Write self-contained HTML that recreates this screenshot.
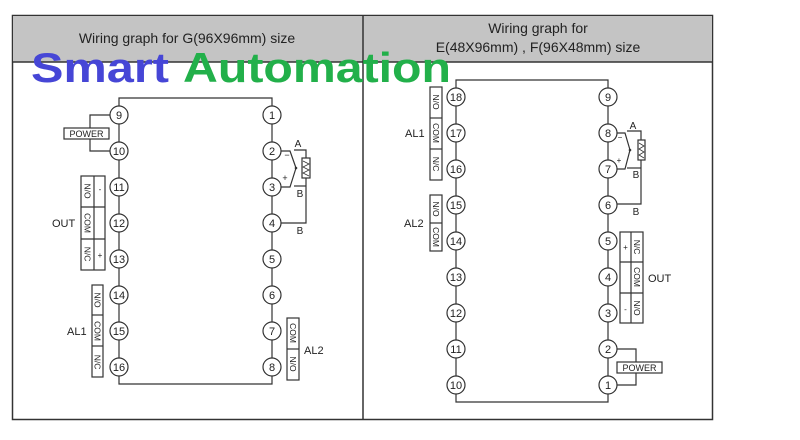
<!DOCTYPE html>
<html><head><meta charset="utf-8"><style>
html,body{margin:0;padding:0;background:#fff;width:800px;height:440px;overflow:hidden}
svg{display:block;font-family:"Liberation Sans",sans-serif}
</style></head><body>
<svg width="800" height="440" viewBox="0 0 800 440" xmlns="http://www.w3.org/2000/svg">
<!-- frame -->
<rect x="12.5" y="15.5" width="700" height="404" fill="#fff" stroke="#333" stroke-width="1.5"/>
<rect x="13" y="16" width="699" height="46" fill="#c4c4c4"/>
<line x1="12" y1="62" x2="713" y2="62" stroke="#333" stroke-width="1.5"/>
<line x1="363" y1="15" x2="363" y2="419" stroke="#333" stroke-width="1.5"/>
<text x="187" y="43" font-size="14" text-anchor="middle" fill="#222">Wiring graph for G(96X96mm) size</text>
<text x="538" y="33" font-size="14" text-anchor="middle" fill="#222">Wiring graph for</text>
<text x="538" y="52" font-size="14" text-anchor="middle" fill="#222">E(48X96mm) ,  F(96X48mm) size</text>
<text x="31" y="82" font-size="42" font-weight="bold" fill="#4646d6" textLength="138" lengthAdjust="spacingAndGlyphs">Smart</text>
<text x="183" y="82" font-size="42" font-weight="bold" fill="#22b04a" textLength="268" lengthAdjust="spacingAndGlyphs">Automation</text>

<g stroke="#333" stroke-width="1.2" fill="none">
<!-- left panel bus -->
<polyline points="119,115 119,98 272,98 272,115"/>
<line x1="119" y1="115" x2="119" y2="367"/>
<line x1="272" y1="115" x2="272" y2="367"/>
<polyline points="119,367 119,384 272,384 272,367"/>
<!-- power -->
<polyline points="110,115 90,115 90,128"/>
<polyline points="90,139 90,151 110,151"/>
<rect x="64" y="128" width="45" height="11"/>
<!-- OUT box -->
<rect x="81" y="176" width="24" height="94"/>
<line x1="94" y1="176" x2="94" y2="270"/>
<line x1="81" y1="207" x2="105" y2="207"/>
<line x1="81" y1="239" x2="105" y2="239"/>
<!-- AL1 -->
<rect x="92" y="285" width="11" height="92"/>
<line x1="92" y1="315" x2="103" y2="315"/>
<line x1="92" y1="346" x2="103" y2="346"/>
<!-- AL2 -->
<rect x="287" y="318" width="12" height="62"/>
<line x1="287" y1="349" x2="299" y2="349"/>
<!-- thermo left -->
<polyline points="281,151 290,151 296,168"/>
<polyline points="281,187 290,187 296,168"/>
<polyline points="294,150 306,150 306,158"/>
<polyline points="294,186 306,186"/>
<polyline points="306,178 306,223 281,223"/>
<rect x="302" y="158" width="8" height="20"/>
<polyline points="303,161 309,164 303,167 309,170 303,173 309,176" stroke-width="0.8"/>

<!-- right panel bus -->
<polyline points="456,97 456,80 608,80 608,97"/>
<line x1="456" y1="97" x2="456" y2="385"/>
<line x1="608" y1="97" x2="608" y2="385"/>
<polyline points="456,385 456,402 608,402 608,385"/>
<!-- AL1 -->
<rect x="430" y="87" width="12" height="93"/>
<line x1="430" y1="118" x2="442" y2="118"/>
<line x1="430" y1="149" x2="442" y2="149"/>
<!-- AL2 -->
<rect x="430" y="195" width="12" height="56"/>
<line x1="430" y1="223" x2="442" y2="223"/>
<!-- thermo right -->
<polyline points="617,133 625,133 630,150"/>
<polyline points="617,169 625,169 630,150"/>
<polyline points="627,131 641,131 641,140"/>
<polyline points="627,168 641,168"/>
<polyline points="641,160 641,204 617,204"/>
<rect x="638" y="140" width="7" height="20"/>
<polyline points="639,143 644,146 639,149 644,152 639,155 644,158" stroke-width="0.8"/>
<!-- OUT right -->
<rect x="620" y="232" width="23" height="91"/>
<line x1="631" y1="232" x2="631" y2="323"/>
<line x1="620" y1="262" x2="643" y2="262"/>
<line x1="620" y1="293" x2="643" y2="293"/>
<!-- power right -->
<polyline points="617,349 636,349 636,362"/>
<polyline points="636,373 636,385 617,385"/>
<rect x="617" y="362" width="45" height="11"/>
</g>
<circle cx="296" cy="168" r="1.3" fill="#333"/>
<circle cx="630" cy="150" r="1.3" fill="#333"/>

<g stroke="#333" stroke-width="1.2" fill="#fff">
<circle cx="119" cy="115" r="9"/><circle cx="119" cy="151" r="9"/><circle cx="119" cy="187" r="9"/><circle cx="119" cy="223" r="9"/>
<circle cx="119" cy="259" r="9"/><circle cx="119" cy="295" r="9"/><circle cx="119" cy="331" r="9"/><circle cx="119" cy="367" r="9"/>
<circle cx="272" cy="115" r="9"/><circle cx="272" cy="151" r="9"/><circle cx="272" cy="187" r="9"/><circle cx="272" cy="223" r="9"/>
<circle cx="272" cy="259" r="9"/><circle cx="272" cy="295" r="9"/><circle cx="272" cy="331" r="9"/><circle cx="272" cy="367" r="9"/>
<circle cx="456" cy="97" r="9"/><circle cx="456" cy="133" r="9"/><circle cx="456" cy="169" r="9"/><circle cx="456" cy="205" r="9"/>
<circle cx="456" cy="241" r="9"/><circle cx="456" cy="277" r="9"/><circle cx="456" cy="313" r="9"/><circle cx="456" cy="349" r="9"/><circle cx="456" cy="385" r="9"/>
<circle cx="608" cy="97" r="9"/><circle cx="608" cy="133" r="9"/><circle cx="608" cy="169" r="9"/><circle cx="608" cy="205" r="9"/>
<circle cx="608" cy="241" r="9"/><circle cx="608" cy="277" r="9"/><circle cx="608" cy="313" r="9"/><circle cx="608" cy="349" r="9"/><circle cx="608" cy="385" r="9"/>
</g>
<g font-size="11" text-anchor="middle" fill="#222">
<text x="119" y="119">9</text><text x="119" y="155">10</text><text x="119" y="191">11</text><text x="119" y="227">12</text>
<text x="119" y="263">13</text><text x="119" y="299">14</text><text x="119" y="335">15</text><text x="119" y="371">16</text>
<text x="272" y="119">1</text><text x="272" y="155">2</text><text x="272" y="191">3</text><text x="272" y="227">4</text>
<text x="272" y="263">5</text><text x="272" y="299">6</text><text x="272" y="335">7</text><text x="272" y="371">8</text>
<text x="456" y="101">18</text><text x="456" y="137">17</text><text x="456" y="173">16</text><text x="456" y="209">15</text>
<text x="456" y="245">14</text><text x="456" y="281">13</text><text x="456" y="317">12</text><text x="456" y="353">11</text><text x="456" y="389">10</text>
<text x="608" y="101">9</text><text x="608" y="137">8</text><text x="608" y="173">7</text><text x="608" y="209">6</text>
<text x="608" y="245">5</text><text x="608" y="281">4</text><text x="608" y="317">3</text><text x="608" y="353">2</text><text x="608" y="389">1</text>
</g>
<g font-size="9" fill="#222" text-anchor="middle">
<text x="86.5" y="137">POWER</text>
<text x="639.5" y="371">POWER</text>
<text x="298" y="147" font-size="10">A</text>
<text x="300" y="197" font-size="10">B</text>
<text x="300" y="234" font-size="10">B</text>
<text x="633" y="129" font-size="10">A</text>
<text x="636" y="178" font-size="10">B</text>
<text x="636" y="215" font-size="10">B</text>
<text x="287" y="158" font-size="9">−</text>
<text x="285" y="181" font-size="9">+</text>
<text x="620" y="140" font-size="8">−</text>
<text x="619" y="163" font-size="8">+</text>
<text x="100" y="192" font-size="8">-</text>
<text x="100" y="258" font-size="8">+</text>
<text x="625.5" y="250" font-size="8">+</text>
<text x="625.5" y="312" font-size="8">-</text>
</g>
<g font-size="11" fill="#222">
<text x="52" y="227">OUT</text>
<text x="67" y="335">AL1</text>
<text x="304" y="354">AL2</text>
<text x="405" y="137">AL1</text>
<text x="404" y="227">AL2</text>
<text x="648" y="282">OUT</text>
</g>
<g font-size="8.5" fill="#222" text-anchor="middle">
<text transform="translate(84.5,191) rotate(90)">N/O</text>
<text transform="translate(84.5,223) rotate(90)">COM</text>
<text transform="translate(84.5,254) rotate(90)">N/C</text>
<text transform="translate(94.5,300) rotate(90)">N/O</text>
<text transform="translate(94.5,331) rotate(90)">COM</text>
<text transform="translate(94.5,362) rotate(90)">N/C</text>
<text transform="translate(290,333) rotate(90)">COM</text>
<text transform="translate(290,364) rotate(90)">N/O</text>
<text transform="translate(433,102) rotate(90)">N/O</text>
<text transform="translate(433,133) rotate(90)">COM</text>
<text transform="translate(433,164) rotate(90)">N/C</text>
<text transform="translate(433,209) rotate(90)">N/O</text>
<text transform="translate(433,237) rotate(90)">COM</text>
<text transform="translate(634,247) rotate(90)">N/C</text>
<text transform="translate(634,277) rotate(90)">COM</text>
<text transform="translate(634,308) rotate(90)">N/O</text>
</g>
</svg>
</body></html>
